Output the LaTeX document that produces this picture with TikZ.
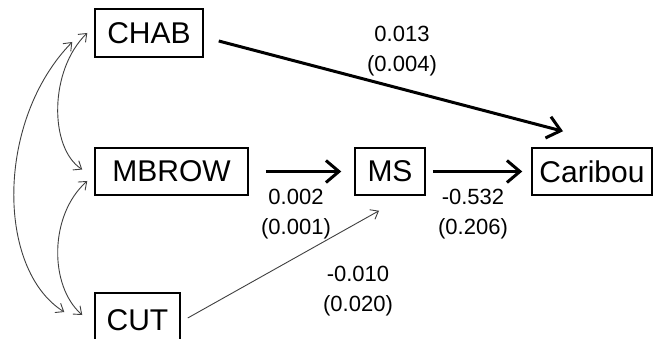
\documentclass[tikz,border=0pt]{standalone}
\usepackage{fontspec}
\setmainfont{Liberation Sans}
\usetikzlibrary{arrows.meta}
\tikzset{
  box/.style={draw=black, line width=1.5pt, inner sep=0pt, font=\fontsize{30}{36}\selectfont},
  lbl/.style={align=center, inner sep=0pt, font=\fontsize{22}{29.5}\selectfont},
  bigarrow/.style={line width=3pt, -{Straight Barb[length=13pt,width=22pt,line width=3pt]}},
  thinarrow/.style={line width=0.9pt, draw=black!75, -{Straight Barb[length=7pt,width=11pt]}},
  corr/.style={line width=0.9pt, draw=black!75, {Straight Barb[length=7pt,width=11pt]}-{Straight Barb[length=7pt,width=11pt]}}
}
\begin{document}
\begin{tikzpicture}[x=1pt,y=-1pt]
\clip (0,0) rectangle (653,339);
\fill[white] (0,0) rectangle (653,339);
\node[box, minimum width=108pt, minimum height=48pt] (CHAB) at (149,33) {CHAB};
\node[box, minimum width=153pt, minimum height=47pt] (MBROW) at (171.5,171.5) {MBROW};
\node[box, minimum width=85pt, minimum height=54pt] (CUT) at (137.5,320) {CUT};
\node[box, minimum width=70pt, minimum height=47pt] (MS) at (390,171.5) {MS};
\node[box, minimum width=120pt, minimum height=47pt] (Caribou) at (592,171.5) {Caribou};

\draw[bigarrow, shorten <=17pt, shorten >=13pt] (MBROW.east) -- (MS.west);
\draw[bigarrow, shorten <=7pt, shorten >=9pt] (MS.east) -- (Caribou.west);
\draw[bigarrow] ([shift={(15,8)}]CHAB.east) -- ([shift={(-29,-16)}]Caribou.north);
\draw[thinarrow] ([shift={(7,-2)}]CUT.east) -- ([shift={(-11,15)}]MS.south);

\draw[corr] ([shift={(-7,0)}]CHAB.west) .. controls (49,70) and (49,148) .. ([shift={(-12,-2)}]MBROW.west);
\draw[corr] ([shift={(-7,9.5)}]MBROW.west) .. controls (49,215) and (49,286) .. ([shift={(-12,-5)}]CUT.west);
\draw[corr] ([shift={(-22,9)}]CHAB.west) .. controls (-4,120) and (-4,269) .. ([shift={(-30,-8)}]CUT.west);

\node[lbl] (l1) at (402,51) {0.013\\(0.004)};
\node[lbl] (l2) at (296,214) {0.002\\(0.001)};
\node[lbl] (l3) at (473,214) {-0.532\\(0.206)};
\node[lbl] (l4) at (358,291) {-0.010\\(0.020)};
\end{tikzpicture}
\end{document}
